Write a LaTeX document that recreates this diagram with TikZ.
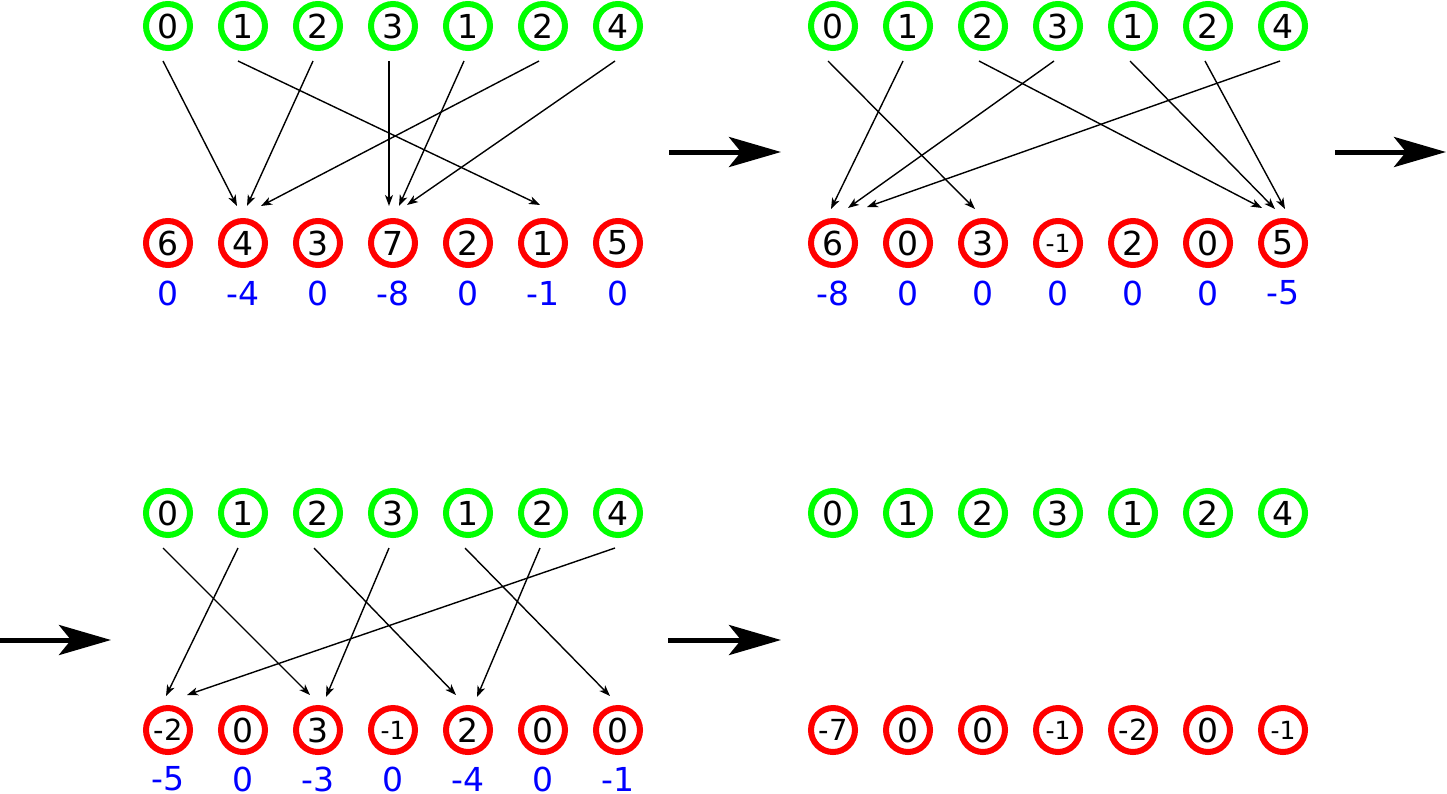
\documentclass[tikz,border=0pt]{standalone}
\usepackage{fontspec}
\setmainfont{DejaVu Sans}
\usetikzlibrary{arrows.meta}
\definecolor{cg}{RGB}{0,255,0}
\definecolor{cr}{RGB}{255,0,0}
\definecolor{cb}{RGB}{0,0,255}
\newcommand\mylink[5]{\draw[conn] ([shift={(#3,35)}]#1.center) -- ([shift={(#4,#5)}]#2.center);}
\begin{document}
\begin{tikzpicture}[x=1pt,y=-1pt,
 topc/.style={circle,draw=cg,line width=6pt,minimum size=44pt,inner sep=0pt,font=\fontsize{33}{33}\selectfont},
 botc/.style={topc,draw=cr},
 negA/.style={font=\fontsize{29}{29}\selectfont},
 negB/.style={font=\fontsize{25}{25}\selectfont},
 plain/.style={},
 val/.style={text=cb,font=\fontsize{33}{33}\selectfont,inner sep=0pt},
 conn/.style={line width=1.4pt,-{Stealth[length=11pt,width=8pt,inset=3pt]}},
 big/.style={line width=5pt,-{Stealth[length=52pt,width=30pt,inset=12pt]}}]
\useasboundingbox (0,0) rectangle (1447,793);
% top rows
\foreach \p/\X/\Y in {1/168/26,2/833/26,3/168/513,4/833/513}{
  \foreach \v [count=\i from 0] in {0,1,2,3,1,2,4}
    \node[topc] (t\p\i) at (\X+75*\i,\Y) {\v};
}
% bottom rows
\foreach \v/\s [count=\i from 0] in {6/plain,4/plain,3/plain,7/plain,2/plain,1/plain,5/plain}
  \node[botc,\s] (b1\i) at (168+75*\i,243) {\v};
\foreach \v/\s [count=\i from 0] in {6/plain,0/plain,3/plain,-1/negB,2/plain,0/plain,5/plain}
  \node[botc,\s] (b2\i) at (833+75*\i,243) {\v};
\foreach \v/\s [count=\i from 0] in {-2/negA,0/plain,3/plain,-1/negB,2/plain,0/plain,0/plain}
  \node[botc,\s] (b3\i) at (168+75*\i,730) {\v};
\foreach \v/\s [count=\i from 0] in {-7/negA,0/plain,0/plain,-1/negB,-2/negA,0/plain,-1/negB}
  \node[botc,\s] (b4\i) at (833+75*\i,730) {\v};
% values
\foreach \v [count=\i from 0] in {0,-4,0,-8,0,-1,0}
  \node[val] (v1\i) at (168+75*\i,293) {\v};
\foreach \v [count=\i from 0] in {-8,0,0,0,0,0,-5}
  \node[val] (v2\i) at (833+75*\i,293) {\v};
\foreach \v [count=\i from 0] in {-5,0,-3,0,-4,0,-1}
  \node[val] (v3\i) at (168+75*\i,779) {\v};
% panel 1 links
\mylink{t10}{b11}{-5}{-6}{-37}
\mylink{t11}{b15}{-5}{-3}{-38}
\mylink{t12}{b11}{-5}{4}{-37}
\mylink{t13}{b13}{-4}{-4}{-37}
\mylink{t14}{b13}{-4}{6}{-37}
\mylink{t15}{b11}{-4}{18}{-37}
\mylink{t16}{b13}{-3}{14}{-38}
% panel 2 links
\mylink{t20}{b22}{-5}{-8}{-34}
\mylink{t21}{b20}{-5}{-2}{-34}
\mylink{t22}{b26}{-4}{-21}{-35}
\mylink{t23}{b20}{-4}{15}{-35}
\mylink{t24}{b26}{-3}{-8}{-34}
\mylink{t25}{b26}{-3}{2}{-34}
\mylink{t26}{b20}{-3}{34}{-36}
% panel 3 links
\mylink{t30}{b32}{-5}{-8}{-35}
\mylink{t31}{b30}{-5}{-2}{-34}
\mylink{t32}{b34}{-4}{-12}{-35}
\mylink{t33}{b32}{-4}{8}{-33}
\mylink{t34}{b36}{-3}{-8}{-34}
\mylink{t35}{b34}{-3}{9}{-33}
\mylink{t36}{b30}{-3}{19}{-35}
% big arrows
\coordinate (a1s) at (669,152); \coordinate (a1e) at (781,152);
\coordinate (a2s) at (1335,152); \coordinate (a2e) at (1446,152);
\coordinate (a3s) at (0,640); \coordinate (a3e) at (111,640);
\coordinate (a4s) at (668,640); \coordinate (a4e) at (781,640);
\draw[big] (a1s) -- (a1e);
\draw[big] (a2s) -- (a2e);
\draw[big] (a3s) -- (a3e);
\draw[big] (a4s) -- (a4e);
\end{tikzpicture}
\end{document}
